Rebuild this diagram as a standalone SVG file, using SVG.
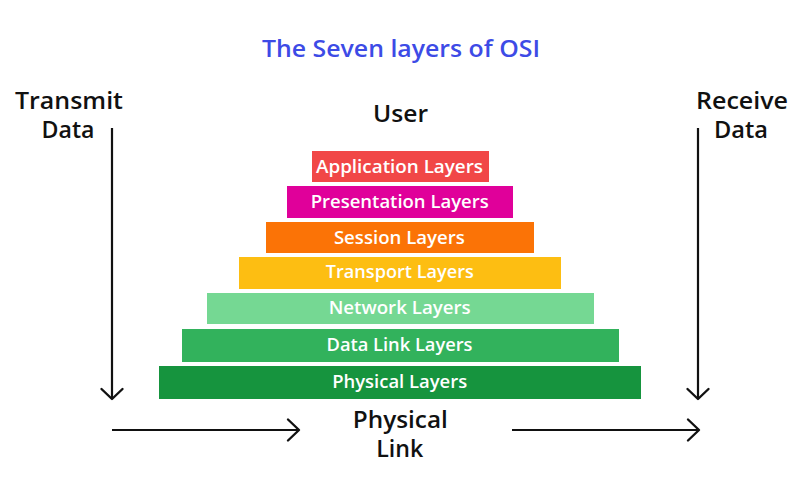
<svg xmlns="http://www.w3.org/2000/svg" width="800" height="480" viewBox="0 0 800 480">
<defs>
<style>
text{font-family:"Open Sans","Liberation Sans",sans-serif;font-weight:600;text-anchor:middle}
.t{fill:#3d4be6;font-size:24px}
.lbl{fill:#111;font-size:23px}
.ly{fill:#fff;font-size:18px}
.ln{stroke:#111;stroke-width:2.2;fill:none}
.hd{stroke:#111;stroke-width:2.4;fill:none;stroke-linecap:round;stroke-linejoin:round}
</style>
</defs>
<rect width="800" height="480" fill="#fff"/>
<text class="t" x="401" y="57" textLength="278" lengthAdjust="spacingAndGlyphs">The Seven layers of OSI</text>
<g id="transmit"><text class="lbl" x="69" y="109" textLength="108" lengthAdjust="spacingAndGlyphs">Transmit</text><text class="lbl" x="68" y="138" textLength="53" lengthAdjust="spacingAndGlyphs">Data</text></g>
<g id="receive"><text class="lbl" x="742" y="109" textLength="92" lengthAdjust="spacingAndGlyphs">Receive</text><text class="lbl" x="741" y="138" textLength="54" lengthAdjust="spacingAndGlyphs">Data</text></g>
<g id="user"><text class="lbl" x="400.5" y="121.5" textLength="55" lengthAdjust="spacingAndGlyphs">User</text></g>
<g id="application"><rect x="312" y="151" width="177" height="31" fill="#f14747"/><text class="ly" x="399.5" y="173.3" textLength="167" lengthAdjust="spacingAndGlyphs">Application Layers</text></g>
<g id="presentation"><rect x="287" y="186" width="226" height="32" fill="#e0009a"/><text class="ly" x="399.7" y="208.3" textLength="178" lengthAdjust="spacingAndGlyphs">Presentation Layers</text></g>
<g id="session"><rect x="266" y="222" width="268" height="31" fill="#fb7306"/><text class="ly" x="399.4" y="244.3" textLength="131" lengthAdjust="spacingAndGlyphs">Session Layers</text></g>
<g id="transport"><rect x="239" y="257" width="322" height="32" fill="#fdbe12"/><text class="ly" x="399.8" y="277.5" textLength="148" lengthAdjust="spacingAndGlyphs">Transport Layers</text></g>
<g id="network"><rect x="207" y="293" width="387" height="31" fill="#75d893"/><text class="ly" x="399.7" y="314" textLength="142" lengthAdjust="spacingAndGlyphs">Network Layers</text></g>
<g id="datalink"><rect x="182" y="329" width="437" height="33" fill="#32b25c"/><text class="ly" x="399.5" y="350.7" textLength="146" lengthAdjust="spacingAndGlyphs">Data Link Layers</text></g>
<g id="physical"><rect x="159" y="366" width="482" height="33" fill="#16943e"/><text class="ly" x="399.7" y="387.7" textLength="135" lengthAdjust="spacingAndGlyphs">Physical Layers</text></g>
<g id="physlink"><text class="lbl" x="400.3" y="428" textLength="95" lengthAdjust="spacingAndGlyphs">Physical</text><text class="lbl" x="399.7" y="457" textLength="47" lengthAdjust="spacingAndGlyphs">Link</text></g>
<g id="connectors">
<line class="ln" x1="112" y1="128" x2="112" y2="398"/><polyline class="hd" points="101.5,389 112,399 122.5,389"/>
<line class="ln" x1="698" y1="128" x2="698" y2="398"/><polyline class="hd" points="687.5,389 698,399 708.5,389"/>
<line class="ln" x1="112" y1="430" x2="298" y2="430"/><polyline class="hd" points="288,419.5 299,430 288,440.5"/>
<line class="ln" x1="512" y1="430" x2="698" y2="430"/><polyline class="hd" points="688,419.5 699,430 688,440.5"/>
</g>
</svg>
